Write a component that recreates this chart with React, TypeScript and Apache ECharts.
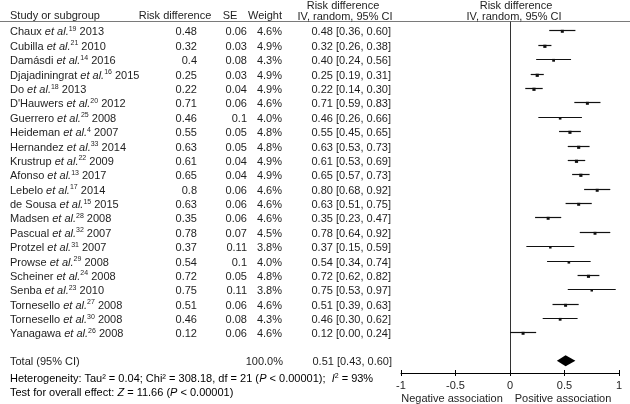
import React, { useEffect, useRef } from "react";
import * as echarts from "echarts";

const authors = ["Chaux", "Cubilla", "Damásdi", "Djajadiningrat", "Do", "D'Hauwers", "Guerrero", "Heideman", "Hernandez", "Krustrup", "Afonso", "Lebelo", "de Sousa", "Madsen", "Pascual", "Protzel", "Prowse", "Scheiner", "Senba", "Tornesello", "Tornesello", "Yanagawa"];
const refs = [19, 21, 14, 16, 18, 20, 25, 4, 33, 22, 13, 17, 15, 28, 32, 31, 29, 24, 23, 27, 30, 26];
const years = [2013, 2010, 2016, 2015, 2013, 2012, 2008, 2007, 2014, 2009, 2017, 2014, 2015, 2008, 2007, 2007, 2008, 2008, 2010, 2008, 2008, 2008];
const riskDiff = [0.48, 0.32, 0.4, 0.25, 0.22, 0.71, 0.46, 0.55, 0.63, 0.61, 0.65, 0.8, 0.63, 0.35, 0.78, 0.37, 0.54, 0.72, 0.75, 0.51, 0.46, 0.12];
const se = [0.06, 0.03, 0.08, 0.03, 0.04, 0.06, 0.1, 0.05, 0.05, 0.04, 0.04, 0.06, 0.06, 0.06, 0.07, 0.11, 0.1, 0.05, 0.11, 0.06, 0.08, 0.06];
const weights = [4.6, 4.9, 4.3, 4.9, 4.9, 4.6, 4.0, 4.8, 4.8, 4.9, 4.9, 4.6, 4.6, 4.6, 4.5, 3.8, 4.0, 4.8, 3.8, 4.6, 4.3, 4.6];
const ciLow = [0.36, 0.26, 0.24, 0.19, 0.14, 0.59, 0.26, 0.45, 0.53, 0.53, 0.57, 0.68, 0.51, 0.23, 0.64, 0.15, 0.34, 0.62, 0.53, 0.39, 0.30, 0.00];
const ciHigh = [0.60, 0.38, 0.56, 0.31, 0.30, 0.83, 0.66, 0.65, 0.73, 0.69, 0.73, 0.92, 0.75, 0.47, 0.92, 0.59, 0.74, 0.82, 0.97, 0.63, 0.62, 0.24];

const totalEst = 0.51;
const totalLow = 0.43;
const totalHigh = 0.60;
const totalWeight = 100.0;
const totalRow = 22.9;

const xTicks = [-1, -0.5, 0, 0.5, 1];

const FONT = "'Liberation Sans', Arial, sans-serif";
const TXT = "#1e1e1e";

const rich = {
  n: { fontSize: 11, fontFamily: FONT, color: TXT, lineHeight: 13 },
  i: { fontSize: 11, fontFamily: FONT, color: TXT, fontStyle: "italic", lineHeight: 13 },
  sup: { fontSize: 7, fontFamily: FONT, color: TXT, lineHeight: 8, verticalAlign: "top" },
};

export default function App() {
  const ref = useRef<HTMLDivElement>(null);
  useEffect(() => {
    if (!ref.current) return;
    const chart = echarts.init(ref.current, null, { renderer: "svg" });

    const tableRows = authors.map((_, i) => [0, i]);
    tableRows.push([0, totalRow]);
    const forestRows = authors.map((_, i) => [ciLow[i], ciHigh[i], riskDiff[i], i, weights[i]]);

    const mkText = (x: number, y: number, text: string, align: string) => ({
      type: "text",
      x,
      y,
      style: { text, align, verticalAlign: "middle", fontSize: 11, fontFamily: FONT, fill: TXT, rich },
    });

    const hdr = (x: number, y: number, text: string, align: string) => ({
      type: "text",
      x,
      y,
      style: { text, fontSize: 11, fontFamily: FONT, fill: TXT, align, verticalAlign: "middle" },
    });

    const option: any = {
      animation: false,
      grid: { left: 401, right: 11, top: 22, bottom: 31 },
      xAxis: [
        {
          type: "value",
          min: -1,
          max: 1,
          interval: 0.5,
          axisLine: { onZero: false, lineStyle: { color: "#000", width: 1 } },
          axisTick: { show: true, length: 3, lineStyle: { color: "#000" } },
          axisLabel: {
            margin: 6,
            fontSize: 11,
            fontFamily: FONT,
            color: TXT,
            formatter: (v: number) => (xTicks.includes(v) ? String(v) : ""),
          },
          splitLine: { show: false },
        },
        {
          type: "value",
          min: -1,
          max: 1,
          interval: 0.5,
          position: "bottom",
          axisLine: { show: false, onZero: false },
          axisTick: { show: true, inside: true, length: 3, lineStyle: { color: "#000" } },
          axisLabel: { show: false },
          splitLine: { show: false },
        },
      ],
      yAxis: {
        type: "value",
        inverse: true,
        min: -0.66,
        max: 23.75,
        axisLine: { show: true, onZero: true, lineStyle: { color: "#333", width: 1 } },
        axisTick: { show: false },
        axisLabel: { show: false },
        splitLine: { show: false },
      },
      graphic: [
        { type: "line", shape: { x1: 0, y1: 21.5, x2: 630, y2: 21.5 }, style: { stroke: "#7a7a7a", lineWidth: 1 } },
        hdr(10, 15, "Study or subgroup", "left"),
        hdr(175, 15, "Risk difference", "center"),
        hdr(230, 15, "SE", "center"),
        hdr(282, 15, "Weight", "right"),
        hdr(343, 5, "Risk difference", "center"),
        hdr(345, 16, "IV, random, 95% CI", "center"),
        hdr(516, 5, "Risk difference", "center"),
        hdr(514, 16, "IV, random, 95% CI", "center"),
        {
          type: "text",
          x: 10,
          y: 378,
          style: {
            text: "{n|Heterogeneity: Tau² = 0.04; Chi² = 308.18, df = 21 (}{i|P}{n| < 0.00001);  }{i|I}{sup|2}{n| = 93%}",
            rich,
            align: "left",
            verticalAlign: "middle",
          },
        },
        {
          type: "text",
          x: 10,
          y: 392,
          style: {
            text: "{n|Test for overall effect: }{i|Z}{n| = 11.66 (}{i|P}{n| < 0.00001)}",
            rich,
            align: "left",
            verticalAlign: "middle",
          },
        },
        hdr(452, 398, "Negative association", "center"),
        hdr(563, 398, "Positive association", "center"),
      ],
      series: [
        {
          type: "custom",
          name: "table",
          data: tableRows,
          encode: { x: 0, y: 1 },
          clip: false,
          silent: true,
          renderItem: (params: any, api: any) => {
            const i = params.dataIndex;
            const y = api.coord([0, api.value(1)])[1];
            if (i === authors.length) {
              return {
                type: "group",
                children: [
                  mkText(10, y, "{n|Total (95% CI)}", "left"),
                  mkText(283, y, "{n|" + totalWeight.toFixed(1) + "%}", "right"),
                  mkText(392, y, "{n|" + totalEst.toFixed(2) + " [" + totalLow.toFixed(2) + ", " + totalHigh.toFixed(2) + "]}", "right"),
                ],
              };
            }
            return {
              type: "group",
              children: [
                mkText(10, y, "{n|" + authors[i] + " }{i|et al.}{sup|" + refs[i] + "}{n| " + years[i] + "}", "left"),
                mkText(197, y, "{n|" + String(riskDiff[i]) + "}", "right"),
                mkText(247, y, "{n|" + String(se[i]) + "}", "right"),
                mkText(282, y, "{n|" + weights[i].toFixed(1) + "%}", "right"),
                mkText(391, y, "{n|" + riskDiff[i].toFixed(2) + " [" + ciLow[i].toFixed(2) + ", " + ciHigh[i].toFixed(2) + "]}", "right"),
              ],
            };
          },
        },
        {
          type: "custom",
          name: "studies",
          data: forestRows,
          encode: { x: [0, 1, 2], y: 3 },
          clip: false,
          renderItem: (params: any, api: any) => {
            const row = api.value(3);
            const p1 = api.coord([api.value(0), row]);
            const p2 = api.coord([api.value(1), row]);
            const pc = api.coord([api.value(2), row]);
            const s = api.value(4) * 0.65;
            const yy = Math.round(p1[1] - 1) + 0.5;
            return {
              type: "group",
              children: [
                { type: "line", shape: { x1: p1[0], y1: yy, x2: p2[0], y2: yy }, style: { stroke: "#111", lineWidth: 1.2 } },
                { type: "rect", shape: { x: pc[0] - s / 2, y: yy - s / 2 + 0.8, width: s, height: s }, style: { fill: "#111" } },
              ],
            };
          },
        },
        {
          type: "custom",
          name: "total",
          data: [[totalLow, totalHigh, totalEst, totalRow]],
          encode: { x: [0, 1, 2], y: 3 },
          clip: false,
          renderItem: (params: any, api: any) => {
            const row = api.value(3);
            const pl = api.coord([api.value(0), row]);
            const ph = api.coord([api.value(1), row]);
            const pc = api.coord([api.value(2), row]);
            const h = 5.5;
            return {
              type: "polygon",
              shape: { points: [[pl[0], pl[1]], [pc[0], pc[1] - h], [ph[0], ph[1]], [pc[0], pc[1] + h]] },
              style: { fill: "#000" },
            };
          },
        },
      ],
    };
    chart.setOption(option);
    return () => chart.dispose();
  }, []);
  return <div ref={ref} style={{ position: "fixed", left: 0, top: 0, width: 630, height: 404 }} />;
}
